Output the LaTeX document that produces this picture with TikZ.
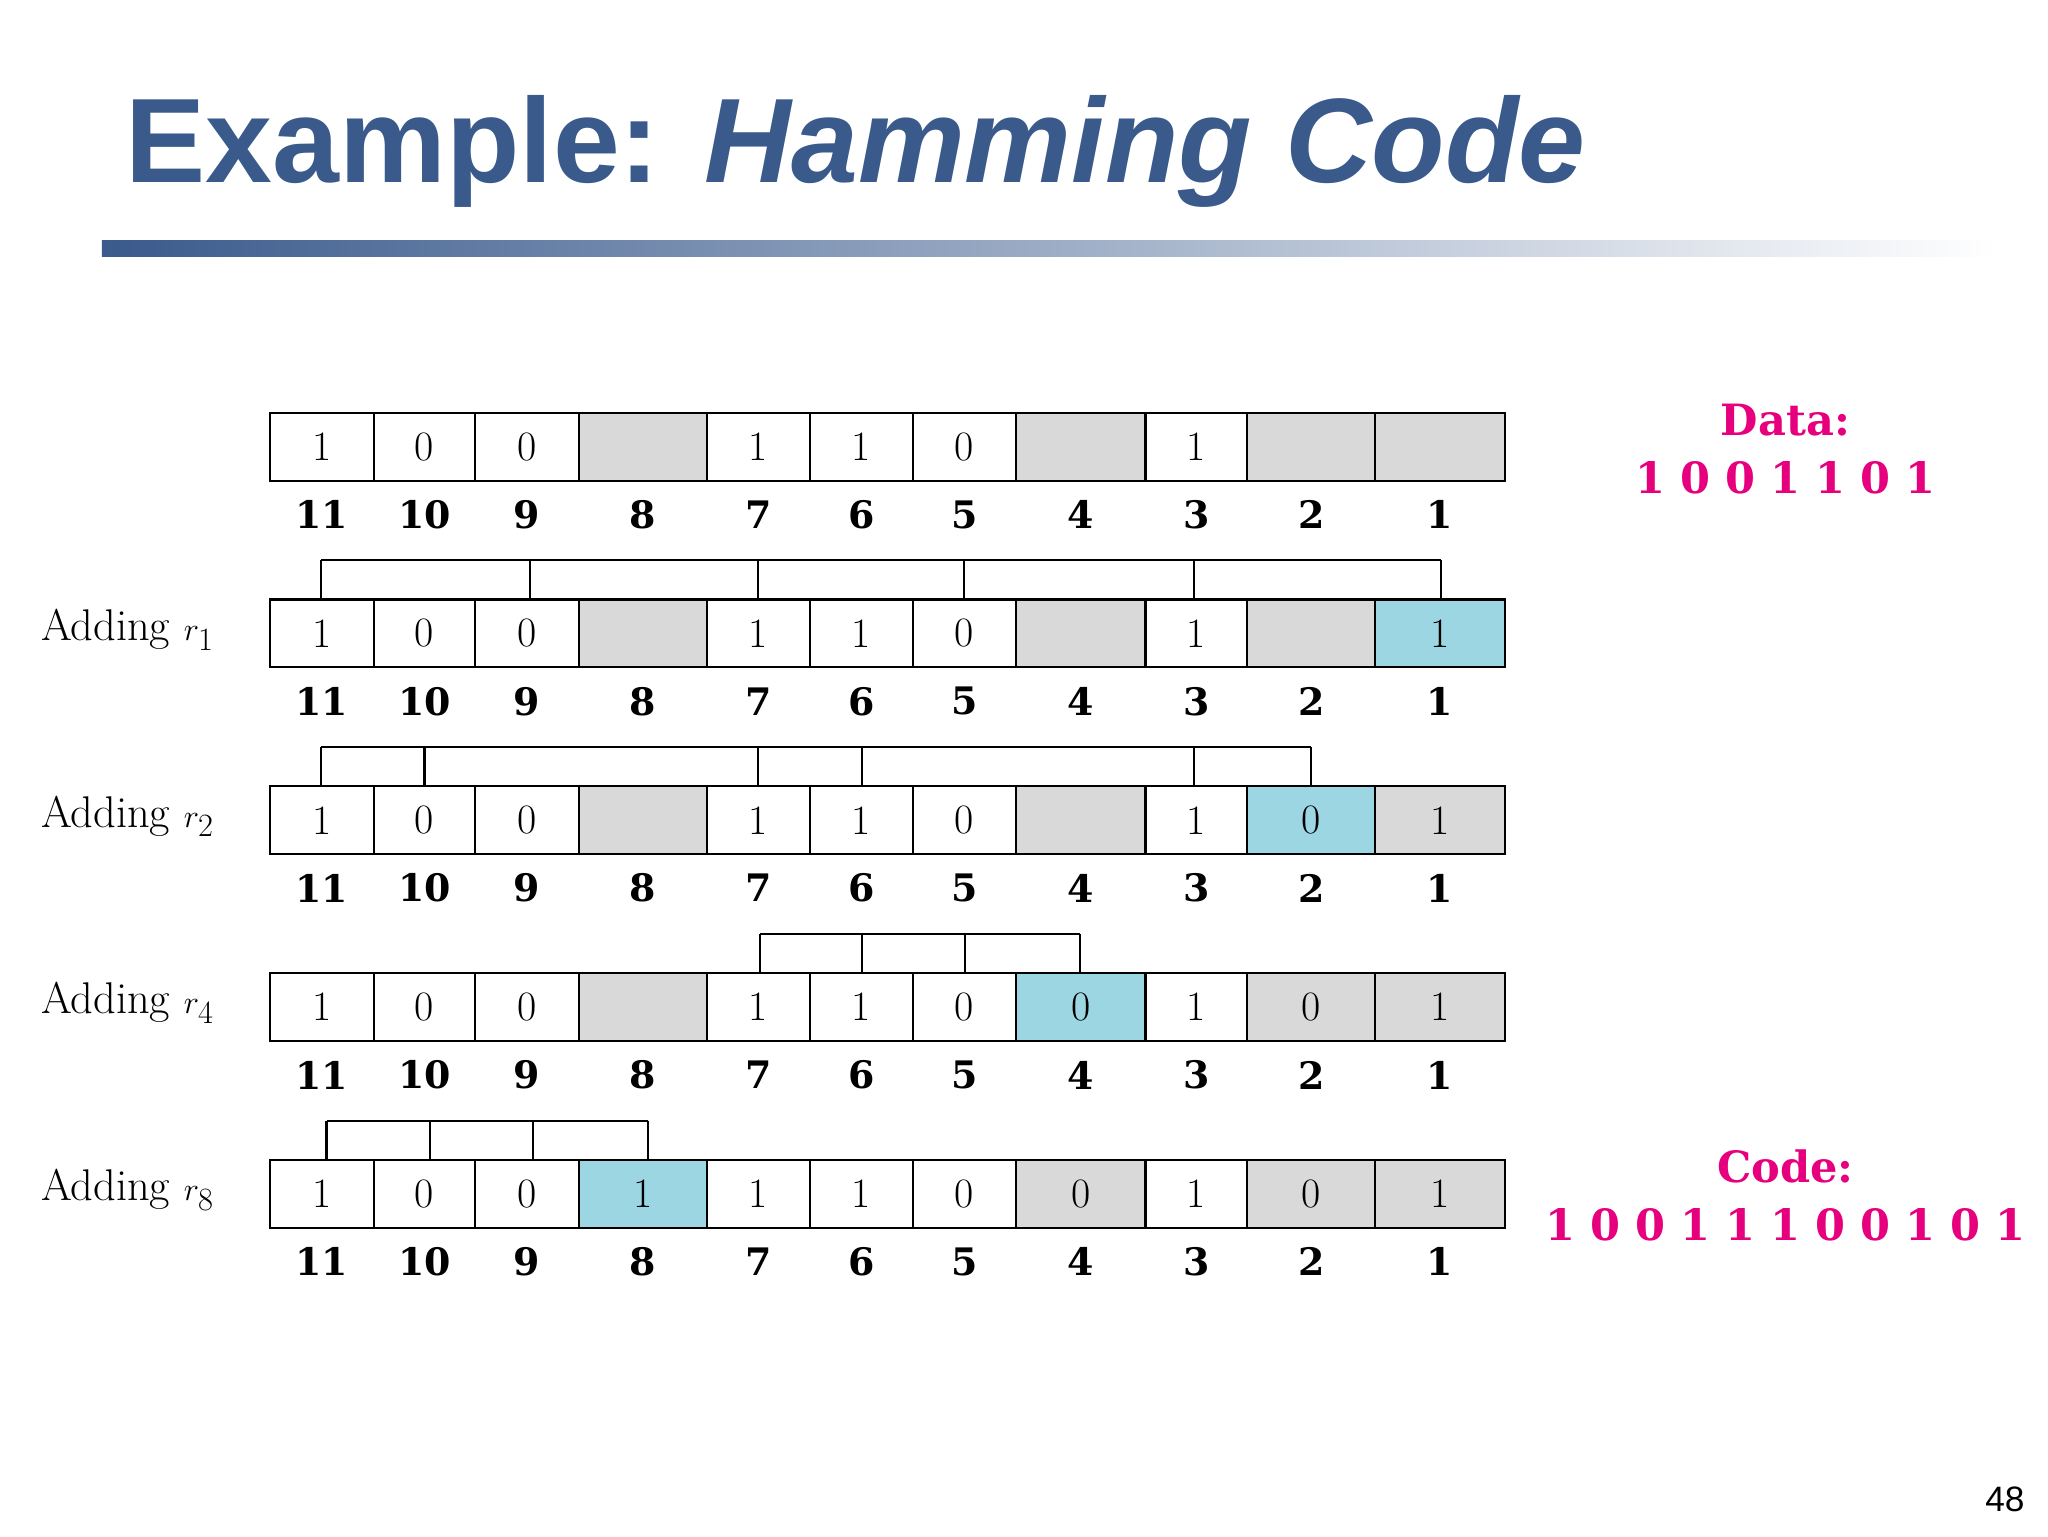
\documentclass[tikz,border=0pt]{standalone}
\usepackage{fontspec}
\newfontfamily\titlefont{Liberation Sans}
\newfontfamily\dserif{DejaVu Serif}
\usetikzlibrary{calc}
\definecolor{tblue}{HTML}{3A5A8C}
\definecolor{cgray}{HTML}{D9D9D9}
\definecolor{cblue}{HTML}{9DD6E3}
\definecolor{mag}{HTML}{E6007E}
\tikzset{
 cell/.style={draw=black, line width=1.6pt, minimum height=52pt, inner sep=0pt, font=\fontsize{32}{32}\selectfont, anchor=center},
 idx/.style={font=\dserif\bfseries\fontsize{29}{29}\selectfont, anchor=center},
 rowlab/.style={font=\fontsize{34}{34}\selectfont, anchor=west},
 brk/.style={line width=1.6pt},
 pink/.style={text=mag, font=\dserif\bfseries\fontsize{33}{33}\selectfont}
}
\begin{document}
\begin{tikzpicture}[x=1pt,y=-1pt]
\useasboundingbox (0,0) rectangle (1568,1176);
\fill[white] (0,0) rectangle (1568,1176);
% title
\node[anchor=base west, text=tblue, inner sep=0pt, font=\titlefont\bfseries\fontsize{92}{92}\selectfont] (title) at (96,140) {Example: \textit{Hamming Code}};
\shade[left color=tblue, right color=white] (78,184) rectangle (1530,196);
\def\xs{{207,286,364,443,541,620,699,778,877,955,1053,1152}}
\def\labs{{11,10,9,8,7,6,5,4,3,2,1}}
\newcommand\cellrow[3]{%
 \foreach \f/\t [count=\i] in {#3} {
   \pgfmathsetmacro\xa{\xs[\i-1]}
   \pgfmathsetmacro\xb{\xs[\i]}
   \pgfmathtruncatemacro\lb{\labs[\i-1]}
   \node[cell, fill=\f, minimum width={\xb-\xa}] (r#2c\i) at ({(\xa+\xb)/2},{#1+26}) {\t};
   \node[idx] (l#2c\i) at ({(\xa+\xb)/2},{#1+78}) {\lb};
 }}
\cellrow{316}{1}{white/1,white/0,white/0,cgray/,white/1,white/1,white/0,cgray/,white/1,cgray/,cgray/}
\cellrow{459}{2}{white/1,white/0,white/0,cgray/,white/1,white/1,white/0,cgray/,white/1,cgray/,cblue/1}
\cellrow{602}{3}{white/1,white/0,white/0,cgray/,white/1,white/1,white/0,cgray/,white/1,cblue/0,cgray/1}
\cellrow{745}{4}{white/1,white/0,white/0,cgray/,white/1,white/1,white/0,cblue/0,white/1,cgray/0,cgray/1}
\cellrow{888}{5}{white/1,white/0,white/0,cblue/1,white/1,white/1,white/0,cgray/0,white/1,cgray/0,cgray/1}
% brackets
\newcommand\bracket[3]{%
 \foreach \x [count=\k] in {#3} {\draw[brk] (\x,#1) -- (\x,#2);}
}
\draw[brk] (246,429) -- (1103,429); \bracket{429}{459}{246,406,580,738,914,1103}
\draw[brk] (246,572) -- (1004,572); \bracket{572}{602}{246,325,580,660,914,1004}
\draw[brk] (582,715) -- (827,715); \bracket{715}{745}{582,660,739,827}
\draw[brk] (250,858) -- (496,858); \bracket{858}{888}{250,329,408,496}
% row labels
\node[rowlab] (a1) at (28,482) {Adding $r_1$};
\node[rowlab] (a2) at (28,625) {Adding $r_2$};
\node[rowlab] (a4) at (28,768) {Adding $r_4$};
\node[rowlab] (a8) at (28,911) {Adding $r_8$};
% data/code
\node[pink] (data) at (1367,322) {Data:};
\node[pink] (datab) at (1367,366) {1 0 0 1 1 0 1};
\node[pink] (code) at (1367,893) {Code:};
\node[pink] (codeb) at (1367,938) {1 0 0 1 1 1 0 0 1 0 1};
\node[font=\titlefont\fontsize{27}{27}\selectfont] (pg) at (1535,1148) {48};
\end{tikzpicture}
\end{document}
